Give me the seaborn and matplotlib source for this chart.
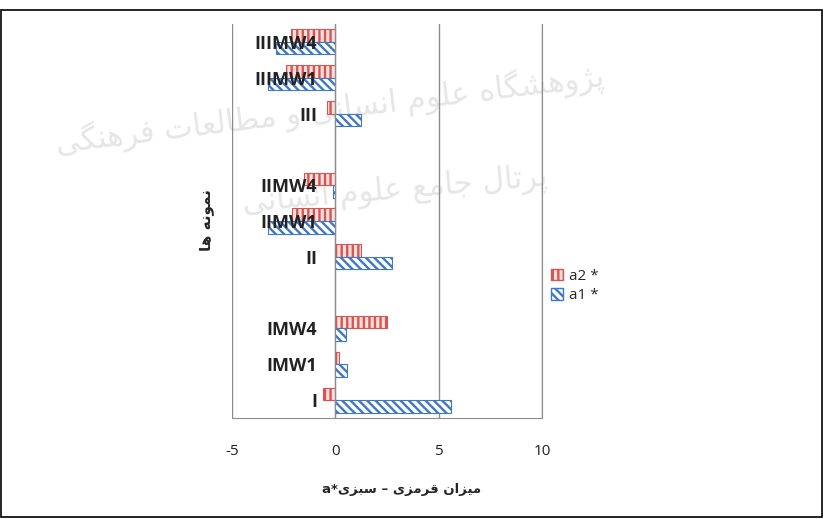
import matplotlib
matplotlib.use("Agg")
import matplotlib.pyplot as plt
import matplotlib.patches as mpatches
import seaborn as sns
import pandas as pd
import numpy as np

# categories, top to bottom (blank rows separate the groups)
categories = ["IIIMW4", "IIIMW1", "III", " ", "IIMW4", "IIMW1", "II", "  ", "IMW4", "IMW1", "I"]
samples = ["IIIMW4", "IIIMW1", "III", "IIMW4", "IIMW1", "II", "IMW4", "IMW1", "I"]
a2_values = [-2.15, -2.4, -0.4, -1.5, -2.1, 1.25, 2.5, 0.2, -0.6]
a1_values = [-2.85, -3.25, 1.25, -0.1, -3.25, 2.75, 0.5, 0.55, 5.6]
series = ["a2", "a1"]
x_ticks = [-5, 0, 5, 10]

# Persian labels written as presentation forms in visual (left to right) order,
# since matplotlib does no shaping or bidi
xlabel_text = ("a*\uFEEF\uFEB0\uFE92\uFEB3 \u2013 \uFEEF\uFEB0\uFEE3\uFEAE\uFED7 "
               "\uFEE5\uFE8D\uFEB0\uFEF4\uFEE3")
ylabel_text = "\uFE8E\uFEEB \uFEEA\uFEE7\uFEEE\uFEE4\uFEE7"
# faint watermark of the source scan
wm_line1 = ("\uFEF0\uFB95\uFEE8\uFEEB\uFEAE\uFED3 \uFE95\uFE8E\uFECC\uFEDF\uFE8E\uFEC4\uFEE3 \uFEED "
            "\uFEF0\uFEE7\uFE8E\uFEB4\uFEE7\uFE8D \uFEE1\uFEEE\uFEE0\uFECB "
            "\uFEE9\uFE8E\uFB95\uFEB8\uFEEB\uFEED\uFB8B\uFB58")
wm_line2 = ("\uFEF0\uFEE7\uFE8E\uFEB4\uFEE7\uFE8D \uFEE1\uFEEE\uFEE0\uFECB "
            "\uFECA\uFEE3\uFE8E\uFE9F \uFEDD\uFE8E\uFE97\uFEAE\uFB58")

RED = "#d9534f"
RED_FILL = "#fbe0e0"
BLUE = "#3f78c4"
GRID = "#8c8c8c"

sns.set_style("white")
plt.rcParams["font.family"] = ["Open Sans", "DejaVu Sans"]
plt.rcParams["hatch.linewidth"] = 1.7

df = pd.DataFrame({
    "sample": samples * 2,
    "value": a2_values + a1_values,
    "series": ["a2"] * len(samples) + ["a1"] * len(samples),
})

fig = plt.figure(figsize=(8.24, 5.19), dpi=100)
ax = fig.add_axes([232 / 824, 1 - 418 / 519, 310 / 824, 394 / 519])
ax.set_facecolor("none")

sns.barplot(data=df, x="value", y="sample", hue="series", order=categories,
            hue_order=series, orient="h", width=0.7, ax=ax, legend=False,
            saturation=1)

styles = {"a2": (RED_FILL, RED, "|||"), "a1": ("white", BLUE, "\\\\\\\\")}
for cont, name in zip(ax.containers, series):
    face, edge, hatch = styles[name]
    for bar in cont:
        bar.set_facecolor(face)
        bar.set_edgecolor(edge)
        bar.set_hatch(hatch)
        bar.set_linewidth(0.8)

ax.set_xlim(-5, 10)
ax.set_ylim(len(categories) - 0.5, -0.5)
ax.set_xticks(x_ticks)
ax.set_xticklabels([str(t) for t in x_ticks], fontsize=11, color="#222222")
ax.tick_params(axis="x", length=0, pad=19)
ax.grid(True, axis="x", color=GRID, linewidth=1)
ax.set_axisbelow(True)
# category labels sit on top of the bars, as in the original
ax.yaxis.set_zorder(5)

ax.spines["left"].set_position(("data", 0))
ax.spines["left"].set_color(GRID)
ax.spines["left"].set_zorder(3)
ax.spines["bottom"].set_color(GRID)
ax.spines["right"].set_color(GRID)
ax.spines["top"].set_visible(False)

ax.set_yticks(np.arange(len(categories)))
ax.set_yticklabels(categories, fontsize=13, fontweight="bold", color="#222222")
ax.set_yticks(np.arange(-0.5, len(categories), 1), minor=True)
ax.tick_params(axis="y", which="major", length=0, pad=13)
ax.tick_params(axis="y", which="minor", length=5, color=GRID, width=1)
ax.set_xlabel("")
ax.set_ylabel("")

handles = [mpatches.Patch(facecolor=styles[s][0], edgecolor=styles[s][1],
                          hatch=styles[s][2], label=s + " *") for s in series]
ax.legend(handles=handles, loc="center left", bbox_to_anchor=(0.985, 0.335),
          frameon=False, fontsize=11, handlelength=0.8, handleheight=0.8,
          handletextpad=0.4, labelspacing=0.3)

fig.text(402 / 824, 1 - 490 / 519, xlabel_text, ha="center", va="center",
         fontsize=9.5, fontweight="bold", family="DejaVu Sans")
fig.text(207 / 824, 1 - 220 / 519, ylabel_text, ha="center", va="center",
         rotation=90, fontsize=11, fontweight="bold", family="DejaVu Sans")

fig.text(330 / 824, 1 - 110 / 519, wm_line1, ha="center", va="center",
         rotation=7, fontsize=22, color="#e6e6e6", family="DejaVu Sans", zorder=-1)
fig.text(395 / 824, 1 - 190 / 519, wm_line2, ha="center", va="center",
         rotation=5, fontsize=22, color="#e6e6e6", family="DejaVu Sans", zorder=-1)

# outer frame of the figure
fig.patches.append(mpatches.Rectangle((1 / 824, 2 / 519), 821 / 824, 507 / 519,
                                      transform=fig.transFigure, fill=False,
                                      edgecolor="black", linewidth=1.2))

fig.savefig("out.png", dpi=100)
